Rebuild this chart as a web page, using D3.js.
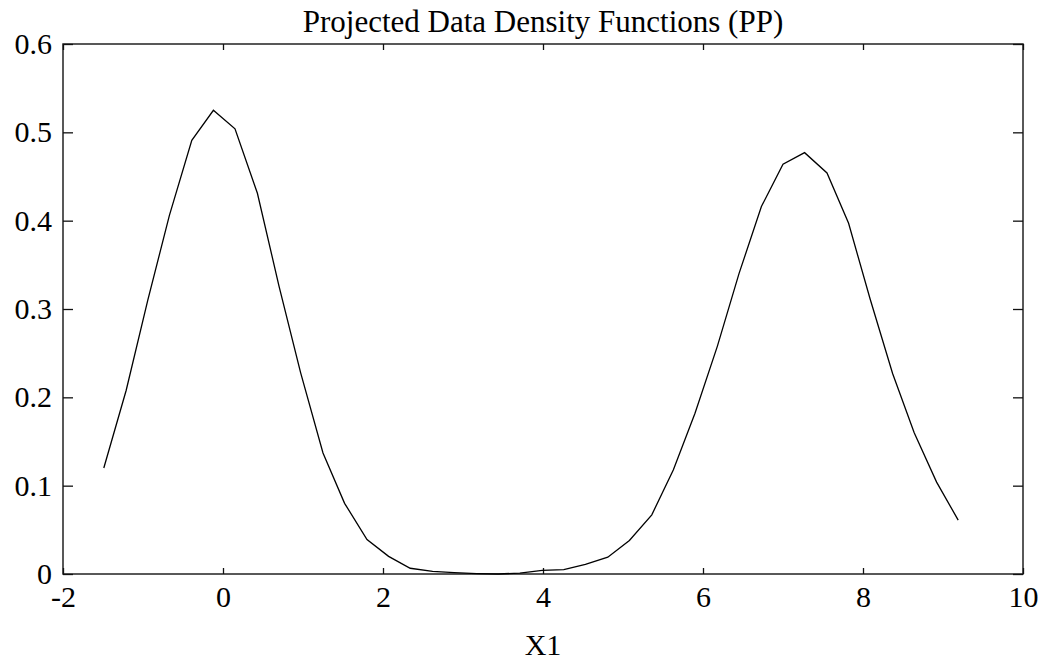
<!DOCTYPE html>
<html>
<head>
<meta charset="utf-8">
<script src="https://cdn.jsdelivr.net/npm/d3@7"></script>
<style>
  html, body { margin: 0; padding: 0; background: #fff; }
  svg { display: block; }
  text { font-family: "Liberation Serif", "Times New Roman", serif; fill: #000; }
</style>
</head>
<body>
<svg id="chart" width="1049" height="665"></svg>
<script>
// Projected density of the data along X1 (evaluation grid and density values)
const gridX = [-1.49, -1.21, -0.94, -0.67, -0.39, -0.12, 0.15, 0.43, 0.70, 0.97,
               1.25, 1.52, 1.80, 2.07, 2.34, 2.62, 2.89, 3.17, 3.44, 3.71,
               3.99, 4.26, 4.53, 4.81, 5.08, 5.36, 5.63, 5.90, 6.18, 6.45,
               6.73, 7.00, 7.27, 7.55, 7.82, 8.09, 8.37, 8.64, 8.92, 9.19];
const density = [0.120, 0.208, 0.310, 0.406, 0.491, 0.525, 0.504, 0.431, 0.326, 0.228,
                 0.137, 0.080, 0.039, 0.020, 0.0065, 0.003, 0.0015, 0.0005, 0.0, 0.001,
                 0.004, 0.005, 0.011, 0.019, 0.038, 0.067, 0.118, 0.182, 0.258, 0.340,
                 0.416, 0.464, 0.477, 0.454, 0.397, 0.311, 0.227, 0.160, 0.104, 0.061];

const xTicks = [-2, 0, 2, 4, 6, 8, 10];
const yTicks = [0, 0.1, 0.2, 0.3, 0.4, 0.5, 0.6];
const titleText = "Projected Data Density Functions (PP)";
const xLabel = "X1";

const margin = { left: 63, right: 26, top: 44, bottom: 91 };
const W = 1049, H = 665;
const svg = d3.select("#chart");

const x = d3.scaleLinear().domain([-2, 10]).range([margin.left, W - margin.right]);
const y = d3.scaleLinear().domain([0, 0.6]).range([H - margin.bottom, margin.top]);

const fmtX = d => String(d);                       // plain hyphen for negatives
const fmtY = d => d === 0 ? "0" : d3.format(".1f")(d);

// frame
svg.append("rect")
  .attr("x", x(-2)).attr("y", y(0.6))
  .attr("width", x(10) - x(-2)).attr("height", y(0) - y(0.6))
  .attr("fill", "none").attr("stroke", "#222").attr("stroke-width", 1.5);

function styleAxis(g) {
  g.select(".domain").remove();
  g.selectAll(".tick line").attr("stroke", "#111").attr("stroke-width", 1.3);
  g.selectAll(".tick text").style("font-size", "30px").attr("fill", "#000");
}

// bottom axis, ticks pointing inward
svg.append("g")
  .attr("transform", `translate(0,${y(0)})`)
  .call(d3.axisBottom(x).tickValues(xTicks).tickSizeInner(-6).tickSizeOuter(0).tickPadding(12).tickFormat(fmtX))
  .call(styleAxis);

// top axis, marks only
svg.append("g")
  .attr("transform", `translate(0,${y(0.6)})`)
  .call(d3.axisTop(x).tickValues(xTicks).tickSizeInner(-6).tickSizeOuter(0).tickFormat(""))
  .call(styleAxis);

// left axis
svg.append("g")
  .attr("transform", `translate(${x(-2)},0)`)
  .call(d3.axisLeft(y).tickValues(yTicks).tickSizeInner(-10).tickSizeOuter(0).tickPadding(11).tickFormat(fmtY))
  .call(styleAxis);

// right axis, marks only
svg.append("g")
  .attr("transform", `translate(${x(10)},0)`)
  .call(d3.axisRight(y).tickValues(yTicks).tickSizeInner(-10).tickSizeOuter(0).tickFormat(""))
  .call(styleAxis);

// density curve
const line = d3.line()
  .x((d, i) => x(gridX[i]))
  .y(d => y(d));

svg.append("path")
  .datum(density)
  .attr("d", line)
  .attr("fill", "none")
  .attr("stroke", "#000")
  .attr("stroke-width", 1.3)
  .attr("stroke-linejoin", "miter");

// title
svg.append("text")
  .attr("x", (x(-2) + x(10)) / 2)
  .attr("y", 32)
  .attr("text-anchor", "middle")
  .style("font-size", "31px")
  .text(titleText);

// x-axis label
svg.append("text")
  .attr("x", (x(-2) + x(10)) / 2)
  .attr("y", 655)
  .attr("text-anchor", "middle")
  .style("font-size", "30px")
  .text(xLabel);
</script>
</body>
</html>
